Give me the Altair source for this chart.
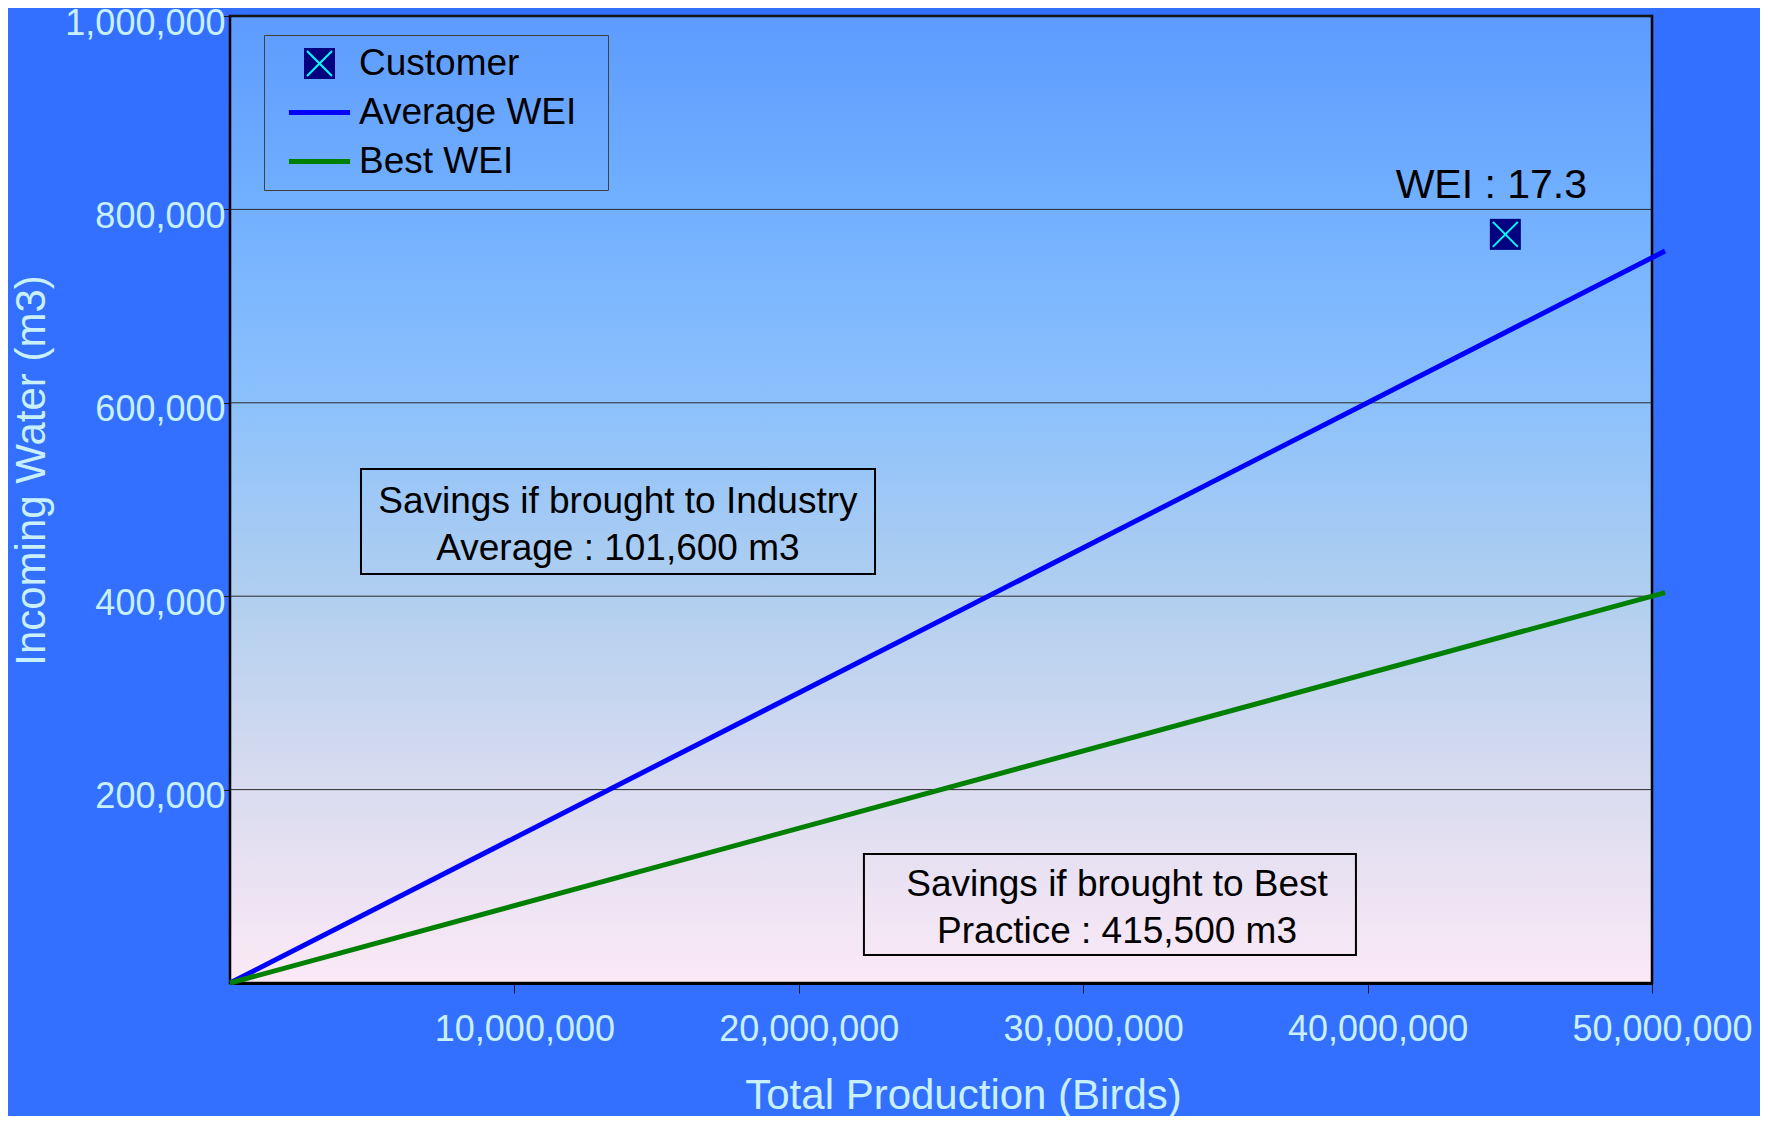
import altair as alt
import pandas as pd

# ---------------- data ----------------
series_names = ["Customer", "Average WEI", "Best WEI"]
series_colors = ["#000080", "#0000FF", "#008000"]

line_production = [0, 50_460_000]
average_water = [0, 757_000]
best_water = [0, 403_700]

customer_production = [44_843_000]
customer_water = [774_200]

x_domain = [0, 50_000_000]
y_domain = [0, 1_000_000]
x_ticks = [10_000_000, 20_000_000, 30_000_000, 40_000_000, 50_000_000]
y_ticks = [200_000, 400_000, 600_000, 800_000, 1_000_000]

annotation_text = [
    "Savings if brought to Industry\nAverage : 101,600 m3",
    "Savings if brought to Best\nPractice : 415,500 m3",
]
annotation_x = [13_640_000, 31_190_000]
annotation_y = [486_000, 90_000]
box_x_start = [4_606_000, 22_290_000]
box_x_end = [22_680_000, 39_590_000]
box_y_start = [423_000, 29_000]
box_y_end = [531_500, 133_400]

# ---------------- tables ----------------
lines_df = pd.DataFrame({
    "series": [series_names[1]] * len(line_production) + [series_names[2]] * len(line_production),
    "production": line_production + line_production,
    "water": average_water + best_water,
})
cust_df = pd.DataFrame({
    "series": [series_names[0]],
    "production": customer_production,
    "water": customer_water,
})
cust_df["label"] = [f"WEI : {w / p * 1000:.1f}" for w, p in zip(customer_water, customer_production)]
grid_df = pd.DataFrame({"value": y_ticks})
ann_df = pd.DataFrame({
    "text": annotation_text, "tx": annotation_x, "ty": annotation_y,
    "bx1": box_x_start, "bx2": box_x_end, "by1": box_y_start, "by2": box_y_end,
})
frame_df = pd.DataFrame({"x1": [x_domain[0]], "x2": [x_domain[1]], "y1": [y_domain[0]], "y2": [y_domain[1]]})

# ---------------- style ----------------
FONT = "Liberation Sans"
PAGE_BG = "#3370FF"
AXIS_TXT = "#C8F0FF"
SQUARE = "M-1,-1L1,-1L1,1L-1,1Z"
LINE_SYM = "M-2.35,0L2.35,0"
XPATH = "M-1,-1L1,1M1,-1L-1,1"

xs = alt.Scale(domain=x_domain, nice=False, zero=True)
ys = alt.Scale(domain=y_domain, nice=False, zero=True)
color_scale = alt.Scale(domain=series_names, range=series_colors)
shape_scale = alt.Scale(domain=series_names, range=[SQUARE, LINE_SYM, LINE_SYM])

x_axis = alt.Axis(
    values=x_ticks, format=",d", title="Total Production (Birds)", grid=False,
    domainColor="#000000", domainWidth=3, tickColor="#1a1a1a", tickSize=10, tickWidth=1,
    labelFont=FONT, labelFontSize=36, labelColor=AXIS_TXT, labelBaseline="alphabetic",
    labelPadding=47, labelOffset=10, labelFlush=False, labelOverlap=False, labelBound=False,
    labelLimit=0,
    titleFont=FONT, titleFontSize=42, titleFontWeight="normal", titleColor=AXIS_TXT,
    titleX=733, titleY=125, titleBaseline="alphabetic", titleAlign="center",
)
y_axis = alt.Axis(
    values=y_ticks, format=",d", title="Incoming Water (m3)", grid=False,
    domainColor="#000000", domainWidth=2, tickColor="#1a1a1a", tickSize=7, tickWidth=1,
    labelFont=FONT, labelFontSize=36, labelColor=AXIS_TXT, labelBaseline="middle",
    labelPadding=-2, labelOffset=7, labelFlush=False, labelOverlap=False, labelBound=False,
    labelLimit=0,
    titleFont=FONT, titleFontSize=42, titleFontWeight="normal", titleColor=AXIS_TXT,
    titleX=-186, titleY=454, titleBaseline="alphabetic", titleAlign="center", titleAngle=270,
)

legend_main = alt.Legend(
    title="\u00a0", titleOrient="right", titleFont=FONT, titleFontSize=37, titlePadding=22,
    orient="none", legendX=34, legendY=19, padding=10, gridAlign="all",
    symbolOffset=27, symbolSize=676, symbolStrokeWidth=5, labelOffset=21, rowPadding=6,
    labelFont=FONT, labelFontSize=37, labelColor="#000000", labelLimit=0,
    symbolOpacity=1, strokeColor="#404040",
)
legend_x = alt.Legend(
    title=None, orient="none", legendX=34, legendY=19, padding=10, gridAlign="all",
    symbolOffset=27, symbolSize=625, symbolType=XPATH, labelOffset=21, rowPadding=6,
    labelFont=FONT, labelFontSize=37, labelOpacity=0, labelLimit=0,
    symbolStrokeColor="#00FFFF", symbolStrokeWidth=2, symbolFillColor="transparent",
    symbolOpacity=1, strokeColor="transparent",
)

X = lambda f: alt.X(f, type="quantitative", scale=xs, axis=x_axis)
Y = lambda f: alt.Y(f, type="quantitative", scale=ys, axis=y_axis)

plot_bg = alt.Chart(frame_df).mark_rect(
    color=alt.LinearGradient(
        gradient="linear", x1=0, y1=0, x2=0, y2=1,
        stops=[
            alt.GradientStop(color="#5D9BFF", offset=0),
            alt.GradientStop(color="#72B0FF", offset=0.2),
            alt.GradientStop(color="#8CC1FC", offset=0.4),
            alt.GradientStop(color="#B1CFEF", offset=0.6),
            alt.GradientStop(color="#DADCF0", offset=0.8),
            alt.GradientStop(color="#FCE9F6", offset=1),
        ],
    ),
    stroke="#000000", strokeWidth=2.5,
).encode(x=X("x1"), x2="x2", y=Y("y1"), y2="y2")

grid = alt.Chart(grid_df).mark_rule(color="#2a2a2a", strokeWidth=1).encode(y=Y("value"))

boxes = alt.Chart(ann_df).mark_rect(fillOpacity=0, stroke="#000000", strokeWidth=2).encode(
    x=X("bx1"), x2="bx2", y=Y("by1"), y2="by2")
box_text = alt.Chart(ann_df).mark_text(
    font=FONT, fontSize=37, color="#000000", align="center", baseline="alphabetic",
    lineBreak="\n", lineHeight=47,
).encode(x=X("tx"), y=Y("ty"), text="text:N")

cust_sq = alt.Chart(cust_df).mark_point(filled=True, size=961, opacity=1).encode(
    x=X("production"), y=Y("water"),
    color=alt.Color("series:N", scale=color_scale, legend=legend_main),
    shape=alt.Shape("series:N", scale=shape_scale, legend=legend_main),
)
lines = alt.Chart(lines_df).mark_line(strokeWidth=5, clip=False).encode(
    x=X("production"), y=Y("water"),
    color=alt.Color("series:N", scale=color_scale, legend=legend_main),
    detail="series:N",
)
cust_x = alt.Chart(cust_df).mark_point(shape=XPATH, filled=False, stroke="#00FFFF", strokeWidth=2, size=625).encode(
    x=X("production"), y=Y("water"),
    opacity=alt.Opacity("series:N", scale=alt.Scale(domain=[series_names[0]], range=[1]), legend=legend_x),
)
cust_lbl = alt.Chart(cust_df).mark_text(
    font=FONT, fontSize=41, color="#000000", align="center", baseline="alphabetic", dx=-14, dy=-36,
).encode(x=X("production"), y=Y("water"), text="label:N")

chart = alt.layer(plot_bg, grid, boxes, box_text, cust_sq, lines, cust_x, cust_lbl).properties(
    width=1422, height=967,
    autosize=alt.AutoSizeParams(type="none"),
    padding={"left": 222, "top": 8, "right": 108, "bottom": 133},
    background=PAGE_BG,
).configure_view(stroke=None).configure(font=FONT)

chart.save("out.html", embed_options={"renderer": "svg", "actions": False})
